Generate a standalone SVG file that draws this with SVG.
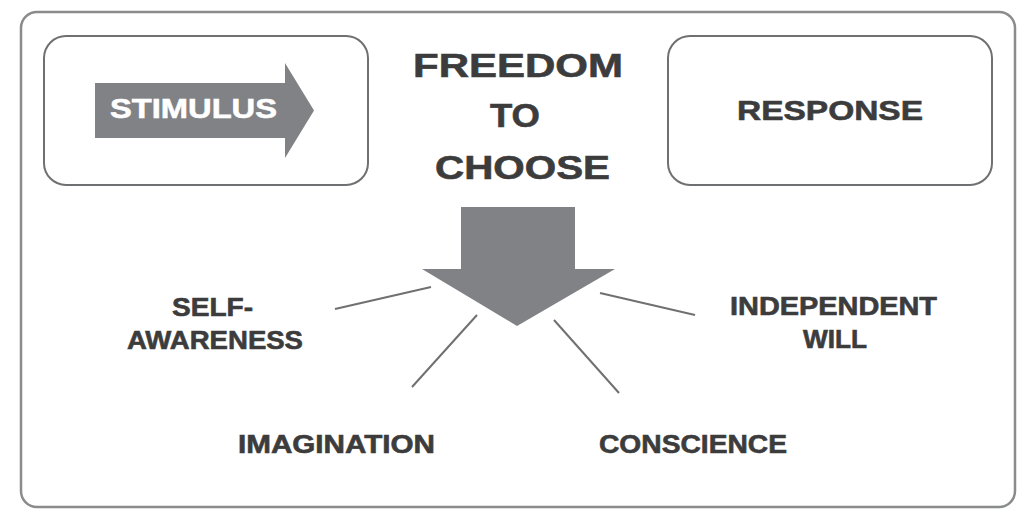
<svg xmlns="http://www.w3.org/2000/svg" width="1032" height="522" viewBox="0 0 1032 522">
<style>
.box{fill:#fff;stroke:#6f7072;stroke-width:2}
.outer{fill:#fff;stroke:#8a8b8d;stroke-width:2.5}
.arrow{fill:#808285}
.t{font-family:"Liberation Sans",Arial,sans-serif;font-weight:bold;fill:#3c3c3d;stroke:#3c3c3d;stroke-width:0.6}
.w{fill:#fff;stroke:#fff}
.con{stroke:#6f7072;stroke-width:2;fill:none}
</style>
<rect class="outer" x="21" y="12" width="994" height="495" rx="16"/>
<g id="stimulus">
<rect class="box" x="44" y="36" width="324" height="149" rx="22"/>
<polygon class="arrow" points="95,83 285,83 285,63 314,110.5 285,158 285,138 95,138"/>
<text class="t w" x="110" y="118" font-size="28" textLength="167" lengthAdjust="spacingAndGlyphs">STIMULUS</text>
</g>
<g id="response">
<rect class="box" x="668" y="36" width="324" height="149" rx="22"/>
<text class="t" x="737" y="120" font-size="28" textLength="186" lengthAdjust="spacingAndGlyphs">RESPONSE</text>
</g>
<g id="freedom">
<text class="t" x="413" y="77" font-size="33" textLength="210" lengthAdjust="spacingAndGlyphs">FREEDOM</text>
<text class="t" x="490" y="127" font-size="33" textLength="50" lengthAdjust="spacingAndGlyphs">TO</text>
<text class="t" x="435" y="179" font-size="33" textLength="175" lengthAdjust="spacingAndGlyphs">CHOOSE</text>
<polygon class="arrow" points="461,207 575,207 575,269 615,269 517,326 422,269 461,269"/>
</g>
<g id="self-awareness">
<text class="t" x="172" y="316" font-size="25" textLength="81" lengthAdjust="spacingAndGlyphs">SELF-</text>
<text class="t" x="127" y="349" font-size="25" textLength="176" lengthAdjust="spacingAndGlyphs">AWARENESS</text>
</g>
<g id="imagination">
<text class="t" x="238" y="453" font-size="25" textLength="197" lengthAdjust="spacingAndGlyphs">IMAGINATION</text>
</g>
<g id="independent-will">
<text class="t" x="730" y="315" font-size="25" textLength="207" lengthAdjust="spacingAndGlyphs">INDEPENDENT</text>
<text class="t" x="803" y="348" font-size="25" textLength="64" lengthAdjust="spacingAndGlyphs">WILL</text>
</g>
<g id="conscience">
<text class="t" x="599" y="453" font-size="25" textLength="188" lengthAdjust="spacingAndGlyphs">CONSCIENCE</text>
</g>
<g id="connectors">
<line class="con" x1="335" y1="309" x2="431" y2="287"/>
<line class="con" x1="477" y1="315" x2="412" y2="387"/>
<line class="con" x1="600" y1="293" x2="695" y2="315"/>
<line class="con" x1="554" y1="320" x2="619" y2="393"/>
</g>
</svg>
